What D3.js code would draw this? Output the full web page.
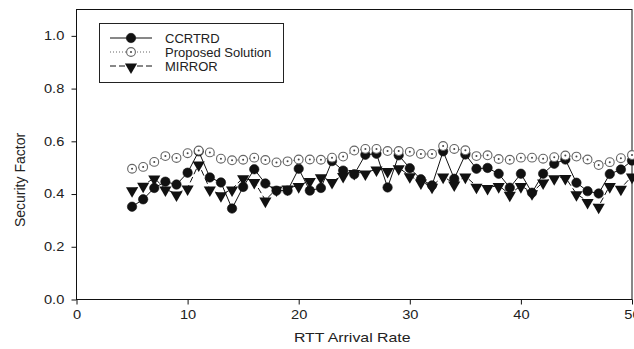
<!DOCTYPE html>
<html>
<head>
<meta charset="utf-8">
<script src="https://cdn.jsdelivr.net/npm/d3@7"></script>
<style>
  body { margin: 0; background: #fff; }
  svg { display: block; overflow: hidden; }
  text { font-family: "Liberation Sans", Arial, sans-serif; fill: #222; }
</style>
</head>
<body>
<svg id="chart" width="634" height="349"></svg>
<script>
// arrival rates on the x axis
let rates = d3.range(5, 51);

let ccrtrd = [0.352, 0.380, 0.423, 0.447, 0.436, 0.481, 0.562, 0.463, 0.444, 0.345,
  0.427, 0.494, 0.440, 0.413, 0.413, 0.496, 0.413, 0.423, 0.525, 0.489,
  0.475, 0.549, 0.553, 0.425, 0.547, 0.498, 0.456, 0.433, 0.562, 0.458,
  0.550, 0.496, 0.499, 0.477, 0.424, 0.477, 0.405, 0.477, 0.515, 0.531,
  0.443, 0.411, 0.402, 0.476, 0.493, 0.527];

let proposed = [0.496, 0.503, 0.522, 0.544, 0.537, 0.555, 0.565, 0.558, 0.534, 0.528,
  0.530, 0.538, 0.529, 0.520, 0.524, 0.531, 0.531, 0.530, 0.538, 0.542,
  0.565, 0.571, 0.571, 0.563, 0.563, 0.560, 0.552, 0.552, 0.582, 0.571,
  0.566, 0.544, 0.547, 0.533, 0.530, 0.538, 0.538, 0.534, 0.540, 0.546,
  0.542, 0.531, 0.510, 0.521, 0.536, 0.548];

let mirror = [0.416, 0.433, 0.461, 0.419, 0.400, 0.423, 0.514, 0.419, 0.397, 0.419,
  0.462, 0.448, 0.377, 0.419, 0.423, 0.432, 0.451, 0.466, 0.448, 0.470,
  0.482, 0.480, 0.495, 0.489, 0.500, 0.469, 0.446, 0.430, 0.468, 0.438,
  0.468, 0.430, 0.425, 0.432, 0.399, 0.432, 0.405, 0.446, 0.462, 0.463,
  0.401, 0.372, 0.354, 0.432, 0.422, 0.468];

let xTicks = [0, 10, 20, 30, 40, 50];
let yTicks = [0.0, 0.2, 0.4, 0.6, 0.8, 1.0];
let seriesNames = ["CCRTRD", "Proposed Solution", "MIRROR"];

let padL = 76.5, padR = 632, padT = 9.5, padB = 299.5;
let stretch = 1.22;

let svg = d3.select("#chart");

let x = d3.scaleLinear().domain([0, 50]).range([padL, padR]);
let y = d3.scaleLinear().domain([0, 1.1]).range([padB, padT]);

// frame
svg.append("rect")
  .attr("x", padL).attr("y", padT)
  .attr("width", padR - padL).attr("height", padB - padT)
  .attr("fill", "none").attr("stroke", "#111").attr("stroke-width", 1);

let xAxis = svg.append("g")
  .attr("transform", "translate(0," + padB + ")")
  .call(d3.axisBottom(x).tickValues(xTicks).tickSize(5).tickFormat(d3.format("d")));
let yAxis = svg.append("g")
  .attr("transform", "translate(" + padL + ",0)")
  .call(d3.axisLeft(y).tickValues(yTicks).tickSize(5).tickFormat(d3.format(".1f")));

[xAxis, yAxis].forEach(function(a) {
  a.select(".domain").remove();
  a.selectAll("line").attr("stroke", "#111");
  a.selectAll("text")
    .attr("font-size", 12)
    .attr("font-family", "Liberation Sans, Arial, sans-serif")
    .attr("fill", "#222");
});
xAxis.selectAll("text").attr("y", 11)
  .attr("transform", "scale(" + stretch + ",1)");
yAxis.selectAll("text").attr("x", -10)
  .attr("transform", "scale(" + stretch + ",1)");

// axis titles
svg.append("text")
  .attr("transform", "translate(" + ((padL + padR) / 2 - 2) + ",342) scale(" + stretch + ",1)")
  .attr("text-anchor", "middle")
  .attr("font-size", 13)
  .text("RTT Arrival Rate");

svg.append("text")
  .attr("transform", "translate(25,180) rotate(-90)")
  .attr("text-anchor", "middle")
  .attr("font-size", 14)
  .text("Security Factor");

function pts(vals) {
  return vals.map(function(v, i) { return [rates[i], v]; });
}

let line = d3.line().x(d => x(d[0])).y(d => y(d[1]));

let tri = d3.symbol().type(d3.symbolTriangle).size(64);

// lines first
svg.append("path").datum(pts(ccrtrd))
  .attr("d", line).attr("fill", "none")
  .attr("stroke", "#111").attr("stroke-width", 1);
svg.append("path").datum(pts(proposed))
  .attr("d", line).attr("fill", "none")
  .attr("stroke", "#666").attr("stroke-width", 1).attr("stroke-dasharray", "1,2");
svg.append("path").datum(pts(mirror))
  .attr("d", line).attr("fill", "none")
  .attr("stroke", "#111").attr("stroke-width", 1).attr("stroke-dasharray", "6,3");

function drawFilled(g, cx, cy) {
  g.append("circle").attr("cx", cx).attr("cy", cy).attr("r", 4.7)
    .attr("fill", "#111").attr("stroke", "#111").attr("stroke-width", 0.6);
}
function drawOpen(g, cx, cy) {
  g.append("circle").attr("cx", cx).attr("cy", cy).attr("r", 4.4)
    .attr("fill", "#fff").attr("stroke", "#666").attr("stroke-width", 1.1);
  g.append("circle").attr("cx", cx).attr("cy", cy).attr("r", 1)
    .attr("fill", "#444");
}
function drawTri(g, cx, cy) {
  g.append("path").attr("d", tri)
    .attr("transform", "translate(" + cx + "," + (cy + 1) + ") rotate(180)")
    .attr("fill", "#111");
}

let mk = svg.append("g");
pts(ccrtrd).forEach(d => drawFilled(mk, x(d[0]), y(d[1])));
pts(proposed).forEach(d => drawOpen(mk, x(d[0]), y(d[1])));
pts(mirror).forEach(d => drawTri(mk, x(d[0]), y(d[1])));

// legend
let lg = svg.append("g");
lg.append("rect")
  .attr("x", 99.5).attr("y", 23.5).attr("width", 184).attr("height", 59)
  .attr("fill", "#fff").attr("stroke", "#222").attr("stroke-width", 1);

let rowY = [38, 52, 66];
let dashes = [null, "1,2", "6,3"];
let strokes = ["#111", "#666", "#111"];
let drawers = [drawFilled, drawOpen, drawTri];

seriesNames.forEach(function(name, i) {
  lg.append("line")
    .attr("x1", 110).attr("x2", 152)
    .attr("y1", rowY[i]).attr("y2", rowY[i])
    .attr("stroke", strokes[i]).attr("stroke-width", 1)
    .attr("stroke-dasharray", dashes[i]);
  drawers[i](lg, 131, rowY[i]);
  lg.append("text")
    .attr("x", 165).attr("y", rowY[i] + 4.5)
    .attr("font-size", 13)
    .text(name);
});
</script>
</body>
</html>
